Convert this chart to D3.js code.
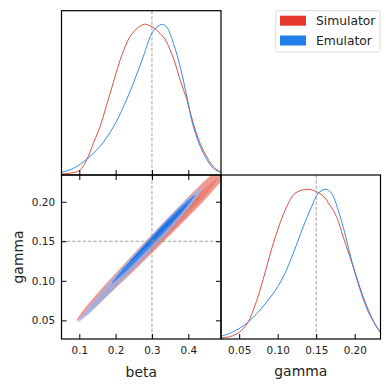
<!DOCTYPE html>
<html>
<head>
<meta charset="utf-8">
<script src="https://cdn.jsdelivr.net/npm/d3@7"></script>
<style>
  body { margin: 0; background: #fff; }
  svg { font-family: "DejaVu Sans", sans-serif; }
</style>
</head>
<body>
<div id="chart"></div>
<script>
// Dimensions
const width = 390;
const height = 390;

// Noms et couleurs des séries
const seriesNames = ["Simulator", "Emulator"];
const seriesColors = ["#e4392b", "#1f7fe6"];
const redLevels = ["#f29b92", "#ee8074", "#ea6657"];
const blueLevels = ["#93b6f1", "#3684ec", "#1e6fdc"];

// Ticks et valeurs vraies
const betaTicks = [0.1, 0.2, 0.3, 0.4];
const gammaTicks = [0.05, 0.10, 0.15, 0.20];
const truthBeta = 0.3;
const truthGamma = 0.15;

// Densités 1D beta [beta, densité relative]
const simBeta = [
  [0.0515, 0.007], [0.100, 0.029], [0.120, 0.10], [0.1386, 0.21], [0.157, 0.32],
  [0.171, 0.43], [0.1846, 0.54], [0.198, 0.65], [0.212, 0.76], [0.226, 0.85],
  [0.240, 0.92], [0.258, 0.97], [0.279, 1.0], [0.295, 0.99], [0.3085, 0.97],
  [0.322, 0.94], [0.336, 0.90], [0.350, 0.83], [0.364, 0.74], [0.3775, 0.63],
  [0.396, 0.50], [0.414, 0.34], [0.4325, 0.21], [0.451, 0.12], [0.469, 0.055],
  [0.492, 0.015]
];
const emuBeta = [
  [0.0515, 0.018], [0.0835, 0.044], [0.120, 0.104], [0.157, 0.19], [0.194, 0.32],
  [0.221, 0.45], [0.249, 0.61], [0.276, 0.785], [0.2995, 0.94], [0.313, 0.98],
  [0.328, 1.0], [0.341, 0.98], [0.359, 0.874], [0.3775, 0.72], [0.396, 0.52],
  [0.414, 0.32], [0.4415, 0.144], [0.469, 0.044], [0.492, 0.015]
];

// Densités 1D gamma [gamma, densité relative]
const simGamma = [
  [0.0264, 0.008], [0.0382, 0.016], [0.0512, 0.049], [0.0606, 0.105], [0.0684, 0.194],
  [0.0771, 0.327], [0.0857, 0.483], [0.0943, 0.639], [0.103, 0.773], [0.1117, 0.884],
  [0.1224, 0.973], [0.1389, 1.0], [0.1505, 0.984], [0.159, 0.955], [0.1677, 0.895],
  [0.1764, 0.817], [0.185, 0.683], [0.1937, 0.55], [0.2023, 0.416], [0.2109, 0.283],
  [0.2196, 0.172], [0.2282, 0.082], [0.2335, 0.045]
];
const emuGamma = [
  [0.0264, 0.018], [0.0425, 0.049], [0.0598, 0.105], [0.0771, 0.194], [0.0943, 0.305],
  [0.1073, 0.416], [0.1202, 0.572], [0.1332, 0.75], [0.144, 0.884], [0.1526, 0.973],
  [0.1622, 1.0], [0.170, 0.973], [0.1785, 0.862], [0.1872, 0.706], [0.1958, 0.528],
  [0.2044, 0.372], [0.2131, 0.238], [0.2218, 0.138], [0.2335, 0.045]
];

// Contours 2D [beta, gamma] — du niveau externe au niveau interne
const simContours = [
  [[0.0923, 0.0495], [0.108, 0.0613], [0.1457, 0.0822], [0.2051, 0.1122], [0.2855, 0.1516],
   [0.367, 0.1906], [0.4289, 0.2194], [0.4735, 0.2371], [0.5038, 0.2423], [0.4928, 0.2283],
   [0.4553, 0.2073], [0.394, 0.1782], [0.3108, 0.14], [0.2266, 0.1023], [0.1622, 0.0746],
   [0.1179, 0.0568]],
  [[0.135, 0.0665], [0.1661, 0.0845], [0.2327, 0.1184], [0.3007, 0.1516], [0.3695, 0.1845],
   [0.4416, 0.2159], [0.4818, 0.2297], [0.4526, 0.2108], [0.386, 0.1769], [0.3161, 0.1446],
   [0.2453, 0.1126], [0.1732, 0.0812]],
  [[0.19, 0.0918], [0.2475, 0.122], [0.307, 0.1514], [0.3681, 0.1797], [0.4322, 0.2069],
   [0.3753, 0.1766], [0.3155, 0.1473], [0.2536, 0.1191]]
];
const emuContours = [
  [[0.0964, 0.0476], [0.1132, 0.0596], [0.1581, 0.0847], [0.2241, 0.1199], [0.2919, 0.1543],
   [0.3616, 0.1878], [0.4094, 0.2084], [0.4391, 0.2177], [0.4209, 0.2031], [0.3795, 0.1795],
   [0.3122, 0.1449], [0.2429, 0.1113], [0.1718, 0.0784], [0.1209, 0.056]],
  [[0.19, 0.0969], [0.2098, 0.1094], [0.2536, 0.1325], [0.2985, 0.1552], [0.3443, 0.1774],
   [0.392, 0.1987], [0.4185, 0.2082], [0.3992, 0.1954], [0.3556, 0.1722], [0.31, 0.1499],
   [0.2635, 0.128], [0.2159, 0.1066]],
  [[0.234, 0.1209], [0.2654, 0.1371], [0.3136, 0.1609], [0.364, 0.1836], [0.3992, 0.1981],
   [0.3686, 0.1815], [0.3197, 0.1581], [0.2687, 0.1356]]
];

// Mise en page des panneaux
const x0 = 61.5, x1 = 221, x2 = 380.5;
const y0 = 10.7, y1 = 175, y2 = 339;

const svg = d3.select("#chart")
  .append("svg")
  .attr("width", width)
  .attr("height", height);

// Échelles
const xBeta = d3.scaleLinear().domain([0.051, 0.49]).range([x0, x1]);
const xGamma = d3.scaleLinear().domain([0.0264, 0.2335]).range([x1, x2]);
const yGamma = d3.scaleLinear().domain([0.0264, 0.2338]).range([y2, y1]);
const yDensBeta = d3.scaleLinear().domain([0, 1.09]).range([y1, y0]);
const yDensGamma = d3.scaleLinear().domain([0, 1.0955]).range([y2, y1]);

// Clip paths
const defs = svg.append("defs");
[["clipTL", x0, y0, x1 - x0, y1 - y0],
 ["clipBL", x0, y1, x1 - x0, y2 - y1],
 ["clipBR", x1, y1, x2 - x1, y2 - y1]].forEach(([id, x, y, w, h]) => {
  defs.append("clipPath").attr("id", id)
    .append("rect").attr("x", x).attr("y", y).attr("width", w).attr("height", h);
});

// Contours (panneau bas gauche)
const gBL = svg.append("g").attr("clip-path", "url(#clipBL)");
const contourLine = d3.line()
  .x(d => xBeta(d[0]))
  .y(d => yGamma(d[1]))
  .curve(d3.curveCatmullRomClosed.alpha(0.5));

simContours.forEach((c, i) => {
  gBL.append("path").attr("d", contourLine(c)).attr("fill", redLevels[i]);
});
emuContours.forEach((c, i) => {
  gBL.append("path").attr("d", contourLine(c))
    .attr("fill", blueLevels[i])
    .attr("fill-opacity", i === 0 ? 0.75 : 0.95);
});

// Courbes 1D
const gTL = svg.append("g").attr("clip-path", "url(#clipTL)");
const gBR = svg.append("g").attr("clip-path", "url(#clipBR)");

const betaLine = d3.line().x(d => xBeta(d[0])).y(d => yDensBeta(d[1]))
  .curve(d3.curveCatmullRom.alpha(0.5));
const gammaLine = d3.line().x(d => xGamma(d[0])).y(d => yDensGamma(d[1]))
  .curve(d3.curveCatmullRom.alpha(0.5));

[simBeta, emuBeta].forEach((s, i) => {
  gTL.append("path").attr("d", betaLine(s))
    .attr("fill", "none").attr("stroke", seriesColors[i]).attr("stroke-width", 0.9);
});
[simGamma, emuGamma].forEach((s, i) => {
  gBR.append("path").attr("d", gammaLine(s))
    .attr("fill", "none").attr("stroke", seriesColors[i]).attr("stroke-width", 0.9);
});

// Lignes des valeurs vraies
const truth = svg.append("g")
  .attr("stroke", "#8a8a8a")
  .attr("stroke-width", 0.8)
  .attr("stroke-dasharray", "3.5,1.8");
truth.append("line").attr("x1", xBeta(truthBeta)).attr("x2", xBeta(truthBeta)).attr("y1", y0).attr("y2", y2);
truth.append("line").attr("x1", x0).attr("x2", x1).attr("y1", yGamma(truthGamma)).attr("y2", yGamma(truthGamma));
truth.append("line").attr("x1", xGamma(truthGamma)).attr("x2", xGamma(truthGamma)).attr("y1", y1).attr("y2", y2);

// Axes (ticks vers l'intérieur)
function styleAxis(g) {
  g.select(".domain").remove();
  g.selectAll(".tick line").attr("stroke", "#000").attr("stroke-width", 1);
  g.selectAll(".tick text").attr("fill", "#222").style("font-size", "10.4px")
    .style("font-family", "DejaVu Sans");
}

// beta : panneau haut (bas) et panneau bas gauche (haut + bas)
svg.append("g").attr("transform", `translate(0,${y1})`)
  .call(d3.axisTop(xBeta).tickValues(betaTicks).tickSize(5).tickSizeOuter(0).tickFormat(""))
  .call(styleAxis);
svg.append("g").attr("transform", `translate(0,${y1})`)
  .call(d3.axisTop(xBeta).tickValues(betaTicks).tickSize(-5).tickSizeOuter(0).tickFormat(""))
  .call(styleAxis);
svg.append("g").attr("transform", `translate(0,${y2})`)
  .call(d3.axisBottom(xBeta).tickValues(betaTicks).tickSize(-5).tickSizeOuter(0)
    .tickPadding(7.5).tickFormat(d3.format(".1f")))
  .call(styleAxis);

// gamma : axe gauche et droit du panneau bas gauche
svg.append("g").attr("transform", `translate(${x0},0)`)
  .call(d3.axisLeft(yGamma).tickValues(gammaTicks).tickSize(-5).tickSizeOuter(0)
    .tickPadding(6.5).tickFormat(d3.format(".2f")))
  .call(styleAxis);
svg.append("g").attr("transform", `translate(${x1},0)`)
  .call(d3.axisRight(yGamma).tickValues(gammaTicks).tickSize(-5).tickSizeOuter(0).tickFormat(""))
  .call(styleAxis);

// gamma : panneau bas droit
svg.append("g").attr("transform", `translate(0,${y2})`)
  .call(d3.axisBottom(xGamma).tickValues(gammaTicks).tickSize(-5).tickSizeOuter(0)
    .tickPadding(7.5).tickFormat(d3.format(".2f")))
  .call(styleAxis);

// Cadres
[[x0, y0, x1 - x0, y1 - y0], [x0, y1, x1 - x0, y2 - y1], [x1, y1, x2 - x1, y2 - y1]]
  .forEach(([x, y, w, h]) => {
    svg.append("rect").attr("x", x).attr("y", y).attr("width", w).attr("height", h)
      .attr("fill", "none").attr("stroke", "#000").attr("stroke-width", 1.2);
  });

// Titres des axes
svg.append("text")
  .attr("x", (x0 + x1) / 2).attr("y", 376.5)
  .attr("text-anchor", "middle")
  .style("font-size", "13.9px").attr("fill", "#222")
  .text("beta");
svg.append("text")
  .attr("x", (x1 + x2) / 2).attr("y", 376)
  .attr("text-anchor", "middle")
  .style("font-size", "13.9px").attr("fill", "#222")
  .text("gamma");
svg.append("text")
  .attr("transform", `translate(23,${(y1 + y2) / 2}) rotate(-90)`)
  .attr("text-anchor", "middle")
  .style("font-size", "13.9px").attr("fill", "#222")
  .text("gamma");

// Légende
const legend = svg.append("g");
legend.append("rect")
  .attr("x", 275.7).attr("y", 10.7).attr("width", 104.3).attr("height", 41.3)
  .attr("rx", 2.5).attr("fill", "#fff").attr("stroke", "#d0d0d0").attr("stroke-width", 0.8);
seriesNames.forEach((name, i) => {
  const yy = 20.7 + i * 19.8;
  legend.append("rect")
    .attr("x", 280).attr("y", yy - 5).attr("width", 26).attr("height", 10)
    .attr("fill", seriesColors[i]);
  legend.append("text")
    .attr("x", 316).attr("y", yy).attr("dy", "0.36em")
    .style("font-size", "12.3px").attr("fill", "#222")
    .text(name);
});
</script>
</body>
</html>
